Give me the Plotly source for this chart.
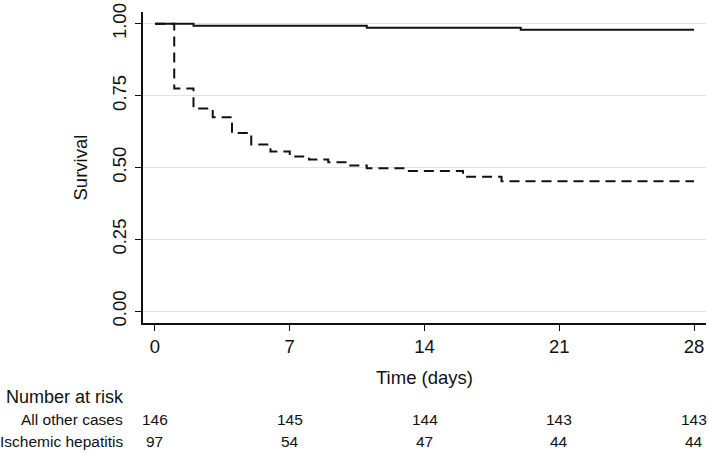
import plotly.graph_objects as go

# Kaplan-Meier step data
time_other = [0, 2, 11, 19, 28]
surv_other = [1.0, 0.993, 0.986, 0.979, 0.979]

time_ih = [0, 1, 2, 3, 4, 5, 6, 7, 8, 9, 10, 11, 13, 16, 18, 28]
surv_ih = [1.0, 0.775, 0.705, 0.675, 0.620, 0.580, 0.556, 0.538, 0.528, 0.518, 0.507, 0.497, 0.488, 0.468, 0.452, 0.452]

x_ticks = [0, 7, 14, 21, 28]
y_ticks = [0.0, 0.25, 0.5, 0.75, 1.0]
y_tick_labels = ["0.00", "0.25", "0.50", "0.75", "1.00"]

risk_groups = ["All other cases", "Ischemic hepatitis"]
risk_other = [146, 145, 144, 143, 143]
risk_ih = [97, 54, 47, 44, 44]

FONT = "Liberation Sans, Arial, sans-serif"
INK = "#111111"
W, H = 709, 453
ML, MR, MT, MB = 143, 3, 7, 130
plot_h = H - MT - MB
plot_w = W - ML - MR
axis_bottom_px = H - MB


def py(pixel_y):
    return (axis_bottom_px - pixel_y) / plot_h


def px(pixel_x):
    return (pixel_x - ML) / plot_w


fig = go.Figure()
fig.add_trace(go.Scatter(x=time_other, y=surv_other, mode="lines", line_shape="hv",
                         line=dict(color=INK, width=2), name="All other cases"))
fig.add_trace(go.Scatter(x=time_ih, y=surv_ih, mode="lines", line_shape="hv",
                         line=dict(color=INK, width=2, dash="10px,6px"), name="Ischemic hepatitis"))

annotations = []
annotations.append(dict(text="Time (days)", x=14, xref="x", y=py(378), yref="paper",
                        xanchor="center", yanchor="middle",
                        showarrow=False, font=dict(size=18.5, color=INK, family=FONT)))
annotations.append(dict(text="Survival", x=px(80), xref="paper", y=0.5, yref="paper", textangle=-90,
                        xanchor="center", yanchor="middle",
                        showarrow=False, font=dict(size=18.5, color=INK, family=FONT)))
annotations.append(dict(text="Number at risk", x=px(4), xref="paper", xanchor="left", yanchor="middle",
                        y=py(398), yref="paper",
                        showarrow=False, font=dict(size=18, color=INK, family=FONT)))
for label, row_y, vals in [(risk_groups[0], 421, risk_other), (risk_groups[1], 443, risk_ih)]:
    annotations.append(dict(text=label, x=px(125), xref="paper", xanchor="right", yanchor="middle",
                            y=py(row_y), yref="paper", showarrow=False,
                            font=dict(size=15.5, color=INK, family=FONT)))
    for t, v in zip(x_ticks, vals):
        annotations.append(dict(text=str(v), x=t, xref="x", y=py(row_y), yref="paper",
                                xanchor="center", yanchor="middle",
                                showarrow=False, font=dict(size=15.5, color=INK, family=FONT)))

fig.update_layout(
    width=W, height=H,
    margin=dict(l=ML, r=MR, t=MT, b=MB),
    paper_bgcolor="white", plot_bgcolor="white",
    showlegend=False,
    font=dict(family=FONT, color=INK),
    annotations=annotations,
    xaxis=dict(range=[-0.623, 28.623], tickvals=x_ticks, ticks="outside", ticklen=6,
               tickcolor=INK, tickwidth=1.2, ticklabeloverflow="allow",
               showline=True, linecolor=INK, linewidth=1.5, showgrid=False, zeroline=False,
               tickfont=dict(size=18.5, family=FONT, color=INK)),
    yaxis=dict(range=[-0.0411, 1.0411], tickvals=y_ticks, ticktext=y_tick_labels, tickangle=-90,
               ticks="outside", ticklen=6, tickcolor=INK, tickwidth=1.2, ticklabeloverflow="allow",
               ticklabelstandoff=2,
               showline=True, linecolor=INK, linewidth=1.5,
               showgrid=True, gridcolor="#e2e2e2", gridwidth=1.2, zeroline=False,
               tickfont=dict(size=18.5, family=FONT, color=INK)),
)

fig.write_html("out.html", config={"displayModeBar": False},
               post_script="document.body.style.margin='0';document.body.style.overflow='hidden';")
